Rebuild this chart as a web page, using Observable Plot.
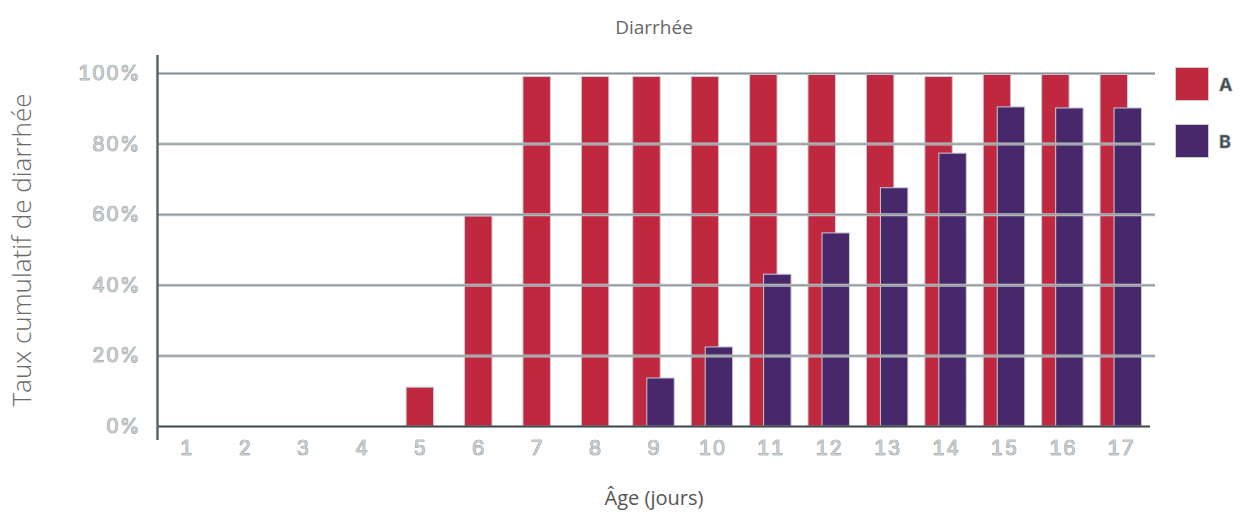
<!DOCTYPE html>
<html><head><meta charset="utf-8">
<script src="https://cdn.jsdelivr.net/npm/d3@7"></script>
<script src="https://cdn.jsdelivr.net/npm/@observablehq/plot@0.6"></script>
<style>
body{margin:0;background:#fff}
#wrap{position:relative;width:1245px;height:517px}
.leg{position:absolute;left:1175px;display:flex;align-items:center;font-family:Inter,sans-serif;font-weight:700;font-size:18px;color:#3e4a4f;-webkit-text-stroke:0.6px #8d989c}
.sw{width:34px;height:34px;margin-right:10px;border:1.5px solid #c9cdd0;box-sizing:border-box}
</style></head>
<body><div id="wrap"></div>
<script>
const days = [1,2,3,4,5,6,7,8,9,10,11,12,13,14,15,16,17];
const seriesA = [0,0,0,0,11,59.5,99,99,99,99,100,100,100,99,100,100,100];
const seriesB = [null,null,null,null,null,null,null,null,13.6,22.4,43,54.7,67.5,77.3,90.4,90.1,90.1];
const yTicks = [0,20,40,60,80,100];
const title = "Diarrhée";
const yLabel = "Taux cumulatif de diarrhée";
const xLabel = "Âge (jours)";
const names = ["A","B"];
const colors = ["#c0283f","#47286b"];

const half = 0.235, shift = 0.12;
const rowsA = days.map((d,i)=>({day:d, v:seriesA[i], off: seriesB[i]==null?0:-shift})).filter(r=>r.v>0);
const rowsB = days.map((d,i)=>({day:d, v:seriesB[i], off: shift})).filter(r=>r.v!=null);

const tickStyle = {fontFamily:"Inter, sans-serif", fontWeight:400, fontSize:20, fill:"#c8cdcf"};

const chart = Plot.plot({
  width:1245, height:517,
  marginLeft:157, marginRight:95, marginTop:73, marginBottom:91,
  x:{type:"linear", domain:[0.5,17.5]},
  y:{domain:[0,100]},
  marks:[
    Plot.rectY(rowsA,{x1:d=>d.day+d.off-half, x2:d=>d.day+d.off+half, y1:0, y2:"v", fill:colors[0], stroke:"#c9cdd0", strokeWidth:1}),
    Plot.rectY(rowsB,{x1:d=>d.day+d.off-half, x2:d=>d.day+d.off+half, y1:0, y2:"v", fill:colors[1], stroke:"#c9cdd0", strokeWidth:1}),
    Plot.ruleY(yTicks.filter(t=>t>0),{stroke:"#bcc3c6", strokeWidth:3, insetRight:-5}),
    Plot.ruleY(yTicks.filter(t=>t>0),{stroke:"#5d686d", strokeWidth:1, strokeOpacity:0.55, insetRight:-5}),
    Plot.ruleY([0],{stroke:"#3b454a", strokeWidth:2}),
    Plot.ruleX([0.5],{stroke:"#5b666b", strokeWidth:2.5, insetTop:-18, insetBottom:-14}),
    Plot.axisY(yTicks,{tickSize:0, tickPadding:17, tickFormat:d=>d+"%", label:null, ...tickStyle}),
    Plot.axisX(days,{tickSize:0, tickPadding:14, tickFormat:d=>String(d), label:null, ...tickStyle}),
    Plot.text([title],{frameAnchor:"top", dy:-53, fontFamily:"Open Sans, sans-serif", fontSize:19, fill:"#666"}),
    Plot.text([yLabel],{frameAnchor:"left", textAnchor:"middle", dx:-135, rotate:-90, fontFamily:"Open Sans, sans-serif", fontWeight:300, fontSize:26, fill:"#6a6a6a"}),
    Plot.text([xLabel],{frameAnchor:"bottom", dy:78, fontFamily:"Open Sans, sans-serif", fontSize:20, fill:"#555"})
  ]
});
d3.select(chart).selectAll("g[aria-label$='tick label'] text")
  .attr("stroke","#6f7b80").attr("stroke-width",0.7).attr("paint-order","stroke").style("letter-spacing","1px");
const wrap = document.getElementById("wrap");
wrap.appendChild(chart);
names.forEach((n,i)=>{
  const el = document.createElement("div");
  el.className="leg";
  el.style.top = (67 + i*57) + "px";
  el.innerHTML = `<div class="sw" style="background:${colors[i]}"></div><span>${n}</span>`;
  wrap.appendChild(el);
});
</script></body></html>
